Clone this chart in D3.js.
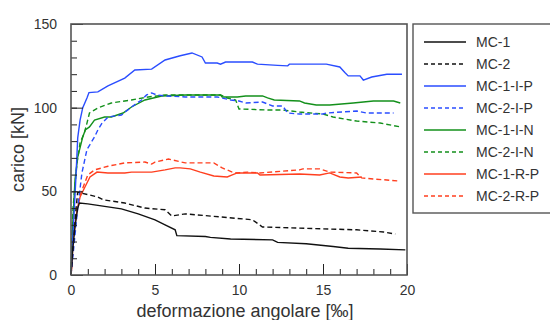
<!DOCTYPE html>
<html>
<head>
<meta charset="utf-8">
<script src="https://cdn.jsdelivr.net/npm/d3@7"></script>
<style>
	body { margin: 0; background: #fff; }
	svg { font-family: "Liberation Sans", Arial, sans-serif; }
	.tick text { fill: #333; font-size: 14px; }
	.domain { display: none; }
</style>
</head>
<body>
<div id="chart"></div>
<script>
var width = 550,
	height = 320,
	margin = {left: 71, right: 143, top: 24, bottom: 45};

// series as [deformazione, carico]
var seriesNames = ["MC-1", "MC-2", "MC-1-I-P", "MC-2-I-P", "MC-1-I-N", "MC-2-I-N", "MC-1-R-P", "MC-2-R-P"];
var seriesColors = ["#111", "#111", "#2a4dff", "#2a4dff", "#13901b", "#13901b", "#ff3f1f", "#ff3f1f"];
var seriesDashed = [false, true, false, true, false, true, false, true];

var mc1 = [[0,0],[0.1,15],[0.25,30],[0.4,40],[0.5,43],[1,42.5],[2,41],[3,39.5],[4,36.5],[5,33],[5.6,30],[6.2,27],[6.3,23.5],[8,23],[8.3,22.5],[9.5,21.5],[12,21],[12.3,19.5],[14,18.7],[15.6,17],[16.5,16],[18.4,15.5],[19.9,15]];
var mc2 = [[0,0],[0.15,20],[0.3,40],[0.4,49.5],[1.6,46.6],[1.9,45],[3.2,43],[4.4,40],[5.6,39],[6,35.3],[6.8,36.5],[8.9,34.7],[10.8,33],[11.4,28.7],[13.6,28],[17,27],[18.6,25.7],[19.3,24.5]];
var mc1ip = [[0,0],[0.1,20],[0.2,40],[0.3,60],[0.4,82],[0.54,92.6],[0.7,100],[0.95,105.8],[1.07,109],[1.6,109.4],[2.2,113],[3.2,117.7],[3.8,122.5],[4.8,123],[5.6,128.5],[6.5,131],[7.2,132.7],[7.8,130.3],[8,126.7],[8.7,126.7],[8.9,126],[9.2,127.3],[10.8,127.3],[11.1,126],[12.3,125.3],[12.9,125],[13,126],[15.2,126],[16,124.3],[16.3,121],[16.5,119],[17.2,119],[17.4,116.5],[17.9,118.3],[18.8,120],[19.7,120]];
var mc2ip = [[0,0],[0.2,20],[0.4,40],[0.65,61],[0.95,75],[1.4,82.5],[1.6,86.7],[1.85,90.8],[2.2,94.4],[3,95.6],[3.6,100.4],[4.2,104.6],[4.5,107.6],[4.8,108.8],[5.1,107.6],[5.6,107],[6.8,106.4],[8.7,106.4],[9.5,104.6],[10,104],[10.4,102.8],[11.4,103.4],[12,101],[12.6,101],[12.9,96.8],[13.6,96.2],[15,96.2],[15.2,96.8],[17,98],[17.6,96.8],[19.2,96.8]];
var mc1in = [[0,0],[0.1,30],[0.24,57],[0.4,70.5],[0.7,82.5],[0.85,86.7],[1.1,88.5],[1.4,92.6],[2,94.4],[2.4,94.4],[3.1,96.8],[3.6,100.4],[4.4,104.6],[5.4,107],[6.8,107.6],[8.9,107.6],[9,106.4],[9.9,106.4],[10.4,107],[11.4,107],[11.7,105.8],[12.1,104.6],[13.6,104],[13.9,102.8],[14.6,101.6],[15.4,101.6],[16.8,102.8],[18,104],[19.2,104],[19.6,102.8]];
var mc2in = [[0,0],[0.12,40],[0.36,67],[0.54,79],[0.8,85],[0.95,90.8],[1.1,96.8],[1.6,99.8],[2.4,102.8],[3.6,104.6],[4.6,106.4],[5.6,107.6],[8.9,107.6],[9.3,105.8],[9.8,104.6],[10,99.2],[11.8,98.6],[12.6,98.6],[13.6,97.4],[15,96.2],[15.6,94.4],[17,92],[18.4,90.8],[19.6,88.5]];
var mc1rp = [[0,0],[0.05,5],[0.12,21],[0.36,39],[0.54,46.6],[0.83,52.6],[1.13,58.6],[1.55,61.5],[2.2,61],[3.2,61],[3.6,61.5],[4.8,61.5],[5.6,62.8],[6.2,64],[6.5,64],[7.1,63.4],[7.7,61.5],[8.5,59.2],[9.3,58.6],[9.6,59.8],[9.9,61],[11.1,61],[11.25,59.8],[13.6,60.4],[14.8,59.8],[15.4,61],[16,58.6],[16.5,58],[17.3,58.6]];
var mc2rp = [[0,0],[0.15,20],[0.35,40],[0.55,48],[1,59.8],[1.4,62.8],[2.2,65],[3.2,67],[4.4,67.5],[4.8,66.3],[5,67.5],[5.8,69.3],[6.8,67],[8.5,67],[9,64],[9.6,61.5],[9.9,61],[10.5,61.5],[11.25,61],[13.6,62.8],[13.8,63.4],[14.8,63.4],[15.4,61.5],[17,61],[17.3,58],[18,57.4],[19.5,56.2]];
var seriesData = [mc1, mc2, mc1ip, mc2ip, mc1in, mc2in, mc1rp, mc2rp];

var xTicks = [0, 5, 10, 15, 20],
	yTicks = [0, 50, 100, 150];

var x = d3.scaleLinear().domain([0, 20]).range([margin.left, width - margin.right]),
	y = d3.scaleLinear().domain([0, 150]).range([height - margin.bottom, margin.top]);

var svg = d3.select("#chart")
			.append("svg")
			.attr("width", width)
			.attr("height", height);

var line = d3.line()
	.x(function(d){ return x(d[0]); })
	.y(function(d){ return y(d[1]); });

// curves (drawn in reverse so the first series sit on top)
svg.append("g")
	.selectAll("path")
	.data(seriesData.map(function(d, i){ return {pts: d, i: i}; }).reverse())
	.enter()
	.append("path")
	.attr("d", function(d){ return line(d.pts); })
	.attr("fill", "none")
	.attr("stroke", function(d){ return seriesColors[d.i]; })
	.attr("stroke-width", 1.4)
	.attr("stroke-dasharray", function(d){ return seriesDashed[d.i] ? "5,3" : null; });

// minor ticks
svg.append("g")
	.attr("transform", "translate(0," + y(0) + ")")
	.call(d3.axisBottom(x).ticks(20).tickSize(-6).tickFormat(""))
	.selectAll("line").attr("stroke", "#222");
svg.append("g")
	.attr("transform", "translate(" + x(0) + ",0)")
	.call(d3.axisLeft(y).tickValues(d3.range(0, 151, 10)).tickSize(-6).tickFormat(""))
	.selectAll("line").attr("stroke", "#222");

// major ticks and labels
var xAxis = svg.append("g")
	.attr("transform", "translate(0," + y(0) + ")")
	.call(d3.axisBottom(x).tickValues(xTicks).tickSize(-11).tickPadding(8));
xAxis.selectAll("line").attr("stroke", "#222");
xAxis.selectAll("text").attr("dy", "0.85em");

var yAxis = svg.append("g")
	.attr("transform", "translate(" + x(0) + ",0)")
	.call(d3.axisLeft(y).tickValues(yTicks).tickSize(-12).tickPadding(14));
yAxis.selectAll("line").attr("stroke", "#222");

// frame
svg.append("rect")
	.attr("x", x(0))
	.attr("y", y(150))
	.attr("width", x(20) - x(0))
	.attr("height", y(0) - y(150))
	.attr("fill", "none")
	.attr("stroke", "#555")
	.attr("stroke-width", 1.6);

// axis titles
svg.append("text")
	.attr("x", (x(0) + x(20)) / 2 + 6)
	.attr("y", 317)
	.attr("text-anchor", "middle")
	.attr("fill", "#333")
	.style("font-size", "18px")
	.text("deformazione angolare [‰]");

svg.append("text")
	.attr("transform", "translate(24," + y(75) + ") rotate(-90)")
	.attr("text-anchor", "middle")
	.attr("fill", "#333")
	.style("font-size", "18px")
	.text("carico [kN]");

// legend
var legend = svg.append("g");
legend.append("rect")
	.attr("x", 413)
	.attr("y", 24)
	.attr("width", 150)
	.attr("height", 189)
	.attr("fill", "#fff")
	.attr("stroke", "#555")
	.attr("stroke-width", 1.4);

var item = legend.selectAll("g.item")
	.data(seriesNames)
	.enter()
	.append("g")
	.attr("class", "item")
	.attr("transform", function(d, i){ return "translate(0," + (42 + i * 22) + ")"; });

item.append("line")
	.attr("x1", 424)
	.attr("x2", 466)
	.attr("stroke", function(d, i){ return seriesColors[i]; })
	.attr("stroke-width", 1.4)
	.attr("stroke-dasharray", function(d, i){ return seriesDashed[i] ? "4,3" : null; });

item.append("text")
	.attr("x", 476)
	.attr("dy", "0.35em")
	.attr("fill", "#333")
	.style("font-size", "14px")
	.text(function(d){ return d; });
</script>
</body>
</html>
